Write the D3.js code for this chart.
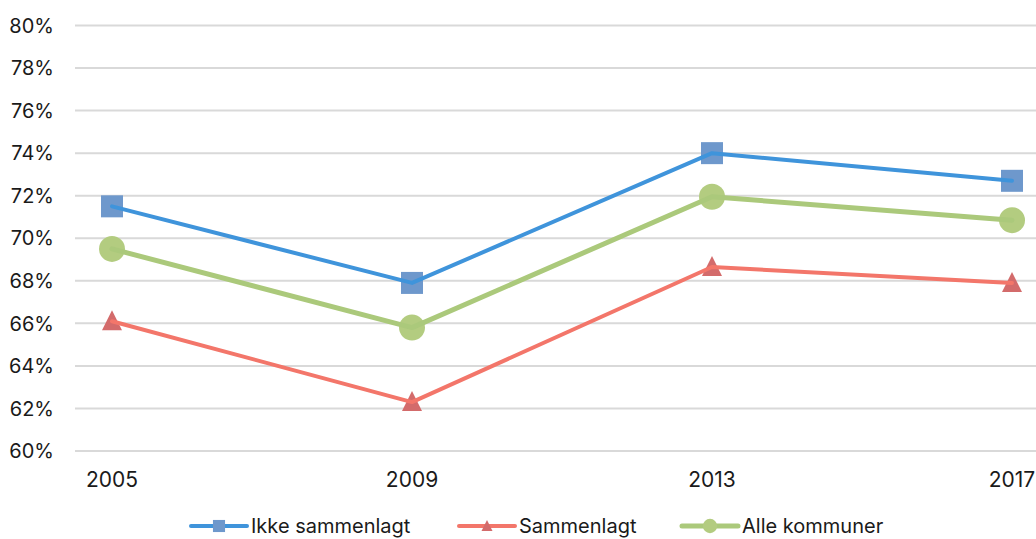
<!DOCTYPE html>
<html>
<head>
<meta charset="utf-8">
<script src="https://cdn.jsdelivr.net/npm/d3@7"></script>
<style>
  html, body { margin: 0; padding: 0; background: #fff; }
  svg { display: block; font-family: Inter, "Open Sans", sans-serif; }
</style>
</head>
<body>
<svg id="chart" width="1036" height="539"></svg>
<script>
// Valgdeltakelse per år
const years = ["2005", "2009", "2013", "2017"];
const ikkeSammenlagt = [71.5, 67.9, 74.0, 72.7];
const sammenlagt = [66.1, 62.3, 68.65, 67.9];
const alleKommuner = [69.5, 65.8, 71.95, 70.85];
const yTicks = [60, 62, 64, 66, 68, 70, 72, 74, 76, 78, 80];

const series = [
  { name: "Ikke sammenlagt", values: ikkeSammenlagt, line: "#3f94db", marker: "#6e98cc", shape: "square", width: 4 },
  { name: "Sammenlagt", values: sammenlagt, line: "#f3766a", marker: "#d36b6b", shape: "triangle", width: 4 },
  { name: "Alle kommuner", values: alleKommuner, line: "#abc97b", marker: "#b3cc80", shape: "circle", width: 5 }
];

const svg = d3.select("#chart");
const gridLeft = 75, gridRight = 1040;

const x = d3.scalePoint().domain(years).range([112, 1012]);
const y = d3.scaleLinear().domain([60, 80]).range([451, 25.5]);

// horizontal gridlines
svg.append("g").selectAll("line").data(yTicks).join("line")
  .attr("x1", gridLeft).attr("x2", gridRight)
  .attr("y1", d => y(d)).attr("y2", d => y(d))
  .attr("stroke", "#d9d9d9").attr("stroke-width", 2);

// y tick labels
svg.append("g").selectAll("text").data(yTicks).join("text")
  .attr("x", 54).attr("y", d => y(d)).attr("dy", "0.36em")
  .attr("text-anchor", "end").attr("font-size", 20).attr("fill", "#1a1a1a")
  .text(d => d + "%");

// x tick labels
svg.append("g").selectAll("text").data(years).join("text")
  .attr("x", d => x(d)).attr("y", 479).attr("dy", "0.36em")
  .attr("text-anchor", "middle").attr("font-size", 21).attr("fill", "#1a1a1a")
  .text(d => d);

function drawMarker(g, shape, cx, cy, color, scale) {
  if (shape === "square") {
    const s = 22 * scale;
    g.append("rect").attr("x", cx - s / 2).attr("y", cy - s / 2).attr("width", s).attr("height", s).attr("fill", color);
  } else if (shape === "triangle") {
    const w = 20 * scale, h = 20 * scale;
    g.append("path").attr("d", `M${cx},${cy - h * 0.55}L${cx + w / 2},${cy + h * 0.45}L${cx - w / 2},${cy + h * 0.45}Z`).attr("fill", color);
  } else {
    g.append("circle").attr("cx", cx).attr("cy", cy).attr("r", 13 * scale).attr("fill", color);
  }
}

const line = d3.line().x((d, i) => x(years[i])).y(d => y(d));

series.forEach(s => {
  const g = svg.append("g");
  s.values.forEach((v, i) => drawMarker(g, s.shape, x(years[i]), y(v), s.marker, 1));
  g.append("path").datum(s.values).attr("d", line)
    .attr("fill", "none").attr("stroke", s.line).attr("stroke-width", s.width)
    .attr("stroke-linejoin", "round").attr("stroke-linecap", "round");
});

// legend
const legendX = [191, 459, 682];
series.forEach((s, i) => {
  const g = svg.append("g").attr("transform", `translate(${legendX[i]},526)`);
  g.append("line").attr("x1", 0).attr("x2", 56).attr("stroke", s.line).attr("stroke-width", s.width)
    .attr("stroke-linecap", "round");
  drawMarker(g, s.shape, 28, 0, s.marker, 0.55);
  g.append("text").attr("x", 60).attr("y", 0).attr("dy", "0.33em")
    .attr("font-size", 20).attr("fill", "#1a1a1a").text(s.name);
});
</script>
</body>
</html>
